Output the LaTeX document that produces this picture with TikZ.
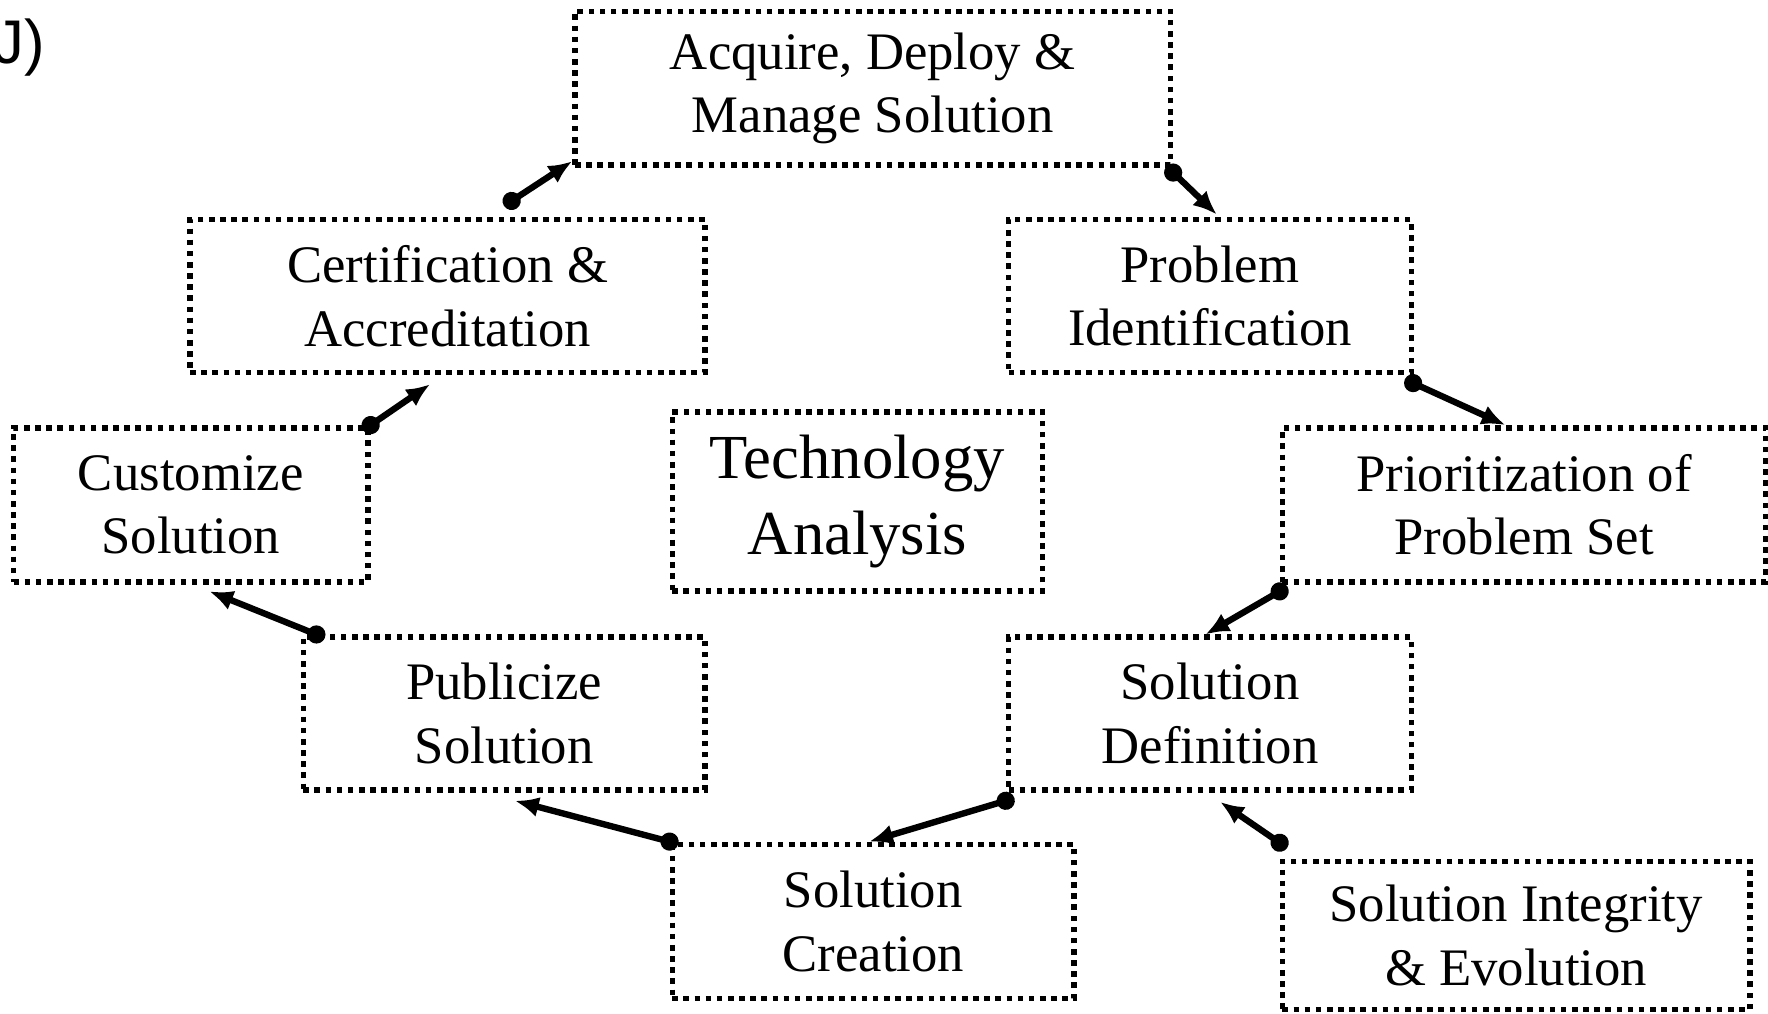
\documentclass[tikz,border=0pt]{standalone}
\usepackage{fontspec}
\setmainfont{Liberation Serif}
\newfontfamily\labelfont{Liberation Sans}
\usetikzlibrary{arrows.meta}
\tikzset{
  stagebox/.style={draw, line width=2.8pt, dash pattern=on 2.8pt off 2.8pt, align=center,
    inner sep=0pt, font=\fontsize{26.5}{32}\selectfont},
  flow/.style={line width=3.2pt, {Circle[length=0.32cm]}-{Latex[length=0.42cm,width=0.36cm]},
    shorten <=-0.16cm}
}
\begin{document}
\begin{tikzpicture}
        \useasboundingbox (0,0) rectangle (31.24,-17.9);
        %% panel letter
        \node[anchor=base east, inner sep=0pt, font=\labelfont\fontsize{31}{36}\selectfont] (letter) at (0.8,-1.12) {J)};
        %% stages
        \node[stagebox, minimum width=10.52cm, minimum height=2.72cm] (acq) at (15.42,-1.56) {Acquire, Deploy \&\\Manage Solution};
        \node[stagebox, minimum width=9.1cm, minimum height=2.7cm] (cert) at (7.91,-5.23) {Certification \&\\Accreditation};
        \node[stagebox, minimum width=7.12cm, minimum height=2.7cm] (prob) at (21.38,-5.23) {Problem\\Identification};
        \node[stagebox, minimum width=6.26cm, minimum height=2.72cm] (cust) at (3.37,-8.92) {Customize\\Solution};
        \node[stagebox, minimum width=6.54cm, minimum height=3.16cm, font=\fontsize{31.5}{38}\selectfont] (tech) at (15.15,-8.86) {Technology\\Analysis};
        \node[stagebox, minimum width=8.54cm, minimum height=2.72cm] (prio) at (26.93,-8.92) {Prioritization of\\Problem Set};
        \node[stagebox, minimum width=7.1cm, minimum height=2.7cm] (pub) at (8.91,-12.61) {Publicize\\Solution};
        \node[stagebox, minimum width=7.12cm, minimum height=2.7cm] (def) at (21.38,-12.61) {Solution\\Definition};
        \node[stagebox, minimum width=7.1cm, minimum height=2.72cm] (crea) at (15.43,-16.28) {Solution\\Creation};
        \node[stagebox, minimum width=8.26cm, minimum height=2.62cm] (integ) at (26.79,-16.53) {Solution Integrity\\\& Evolution};
        %% cycle
        \draw[flow] ([shift={(1.13,0.28)}]cert.north) -- ([yshift=0.12cm]acq.south west);
        \draw[flow] ([yshift=-0.08cm]acq.south east) -- ([shift={(0.12,0.04)}]prob.north);
        \draw[flow] ([shift={(-0.02,-0.14)}]prob.south east) -- ([xshift=-0.33cm]prio.north);
        \draw[flow] ([yshift=-0.12cm]prio.south west) -- ([xshift=-0.08cm]def.north);
        \draw[flow] ([yshift=-0.14cm]def.south west) -- ([xshift=-0.07cm]crea.north);
        \draw[flow] (crea.north west) -- ([shift={(0.19,-0.14)}]pub.south);
        \draw[flow] ([xshift=0.28cm]pub.north west) -- ([shift={(0.33,-0.12)}]cust.south);
        \draw[flow] (cust.north east) -- ([shift={(-0.31,-0.16)}]cert.south);
        %% feedback
        \draw[flow] ([yshift=0.28cm]integ.north west) -- ([shift={(0.18,-0.16)}]def.south);
    \end{tikzpicture}
\end{document}
